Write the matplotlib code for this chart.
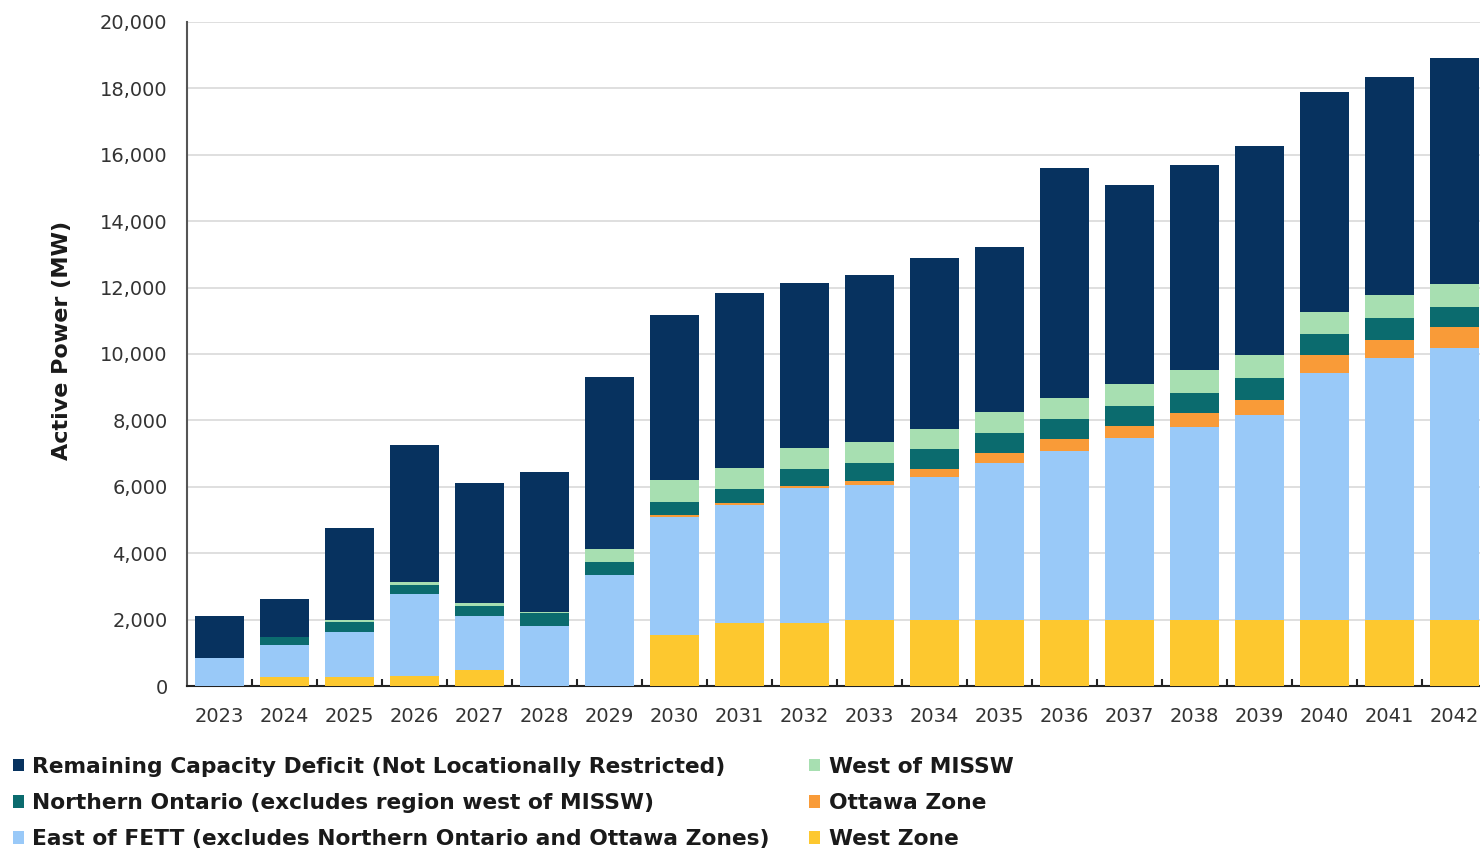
import matplotlib
matplotlib.use("Agg")
import matplotlib.pyplot as plt
from matplotlib.patches import Patch
from matplotlib.ticker import FuncFormatter, MultipleLocator
import numpy as np

years = [str(y) for y in range(2023, 2043)]

# Capacity need by zone (MW), stacked bottom to top
west_zone = [0, 260, 280, 310, 480, 0, 0, 1540, 1900, 1890,
             2000, 2000, 2000, 2000, 2000, 2000, 2000, 2000, 2000, 2000]
east_of_fett = [850, 975, 1360, 2450, 1630, 1810, 3340, 3560, 3550, 4064,
                4054, 4286, 4726, 5078, 5460, 5810, 6160, 7440, 7870, 8170]
ottawa_zone = [0, 0, 0, 0, 0, 0, 0, 50, 70, 70,
               120, 240, 280, 350, 370, 420, 450, 530, 550, 630]
northern_ontario = [0, 250, 280, 280, 310, 390, 400, 400, 400, 500,
                    530, 600, 600, 600, 600, 600, 670, 630, 650, 620]
west_of_missw = [0, 0, 60, 100, 90, 40, 400, 650, 635, 630,
                 650, 630, 650, 660, 680, 680, 680, 670, 700, 700]
remaining_deficit = [1250, 1125, 2790, 4120, 3610, 4200, 5170, 4980, 5280, 4980,
                     5020, 5130, 4970, 6900, 5970, 6190, 6320, 6630, 6570, 6810]

series = [
    ("West Zone", west_zone, "#FDC82F"),
    ("East of FETT (excludes Northern Ontario and Ottawa Zones)", east_of_fett, "#99C9F8"),
    ("Ottawa Zone", ottawa_zone, "#F99B38"),
    ("Northern Ontario (excludes region west of MISSW)", northern_ontario, "#0B6B6E"),
    ("West of MISSW", west_of_missw, "#A7DFB1"),
    ("Remaining Capacity Deficit (Not Locationally Restricted)", remaining_deficit, "#07325F"),
]

fig = plt.figure(figsize=(14.8, 8.52), dpi=100)
ax = fig.add_axes([187 / 1480, 166 / 852, 1300 / 1480, 664 / 852])

x = np.arange(len(years))
bottom = np.zeros(len(years))
handles = {}
for name, vals, color in series:
    vals = np.array(vals, dtype=float)
    ax.bar(x, vals, width=0.755, bottom=bottom, color=color, edgecolor="none", zorder=3)
    bottom += vals
    handles[name] = Patch(facecolor=color, edgecolor="none")

ax.set_xlim(-0.5, len(years) - 0.5)
ax.set_ylim(0, 20000)
ax.yaxis.set_major_locator(MultipleLocator(2000))
ax.yaxis.set_major_formatter(FuncFormatter(lambda v, p: f"{int(v):,}"))
ax.grid(axis="y", color="#d9d9d9", linewidth=1.2, zorder=0)
ax.set_axisbelow(True)

ax.set_xticks(x)
ax.set_xticklabels(years)
ax.set_xticks(np.arange(0.5, len(years) - 0.5, 1.0), minor=True)
ax.tick_params(axis="x", which="major", length=0, pad=15, labelsize=14, labelcolor="#333333")
ax.tick_params(axis="x", which="minor", length=5, width=1.5, direction="in", color="#222222")
ax.tick_params(axis="y", length=0, pad=14, labelsize=14, labelcolor="#333333")

for side in ("top", "right"):
    ax.spines[side].set_visible(False)
ax.spines["left"].set_color("#555555")
ax.spines["left"].set_linewidth(1.5)
ax.spines["bottom"].set_color("#222222")
ax.spines["bottom"].set_linewidth(1.5)

fig.text(62 / 1480, 1 - 340 / 852, "Active Power (MW)", rotation=90,
         ha="center", va="center", fontsize=16, fontweight="bold",
         family="DejaVu Sans", color="#1a1a1a")

order = [
    "Remaining Capacity Deficit (Not Locationally Restricted)",
    "Northern Ontario (excludes region west of MISSW)",
    "East of FETT (excludes Northern Ontario and Ottawa Zones)",
    "West of MISSW",
    "Ottawa Zone",
    "West Zone",
]
leg = fig.legend([handles[n] for n in order], order, ncol=2, loc="upper left",
                 bbox_to_anchor=(4 / 1480, 1 - 748 / 852), frameon=False,
                 prop={"family": "DejaVu Sans", "weight": "bold", "size": 15.7},
                 handlelength=0.5, handleheight=0.5, handletextpad=0.4,
                 columnspacing=1.8, labelspacing=0.75, borderaxespad=0.0)
for t in leg.get_texts():
    t.set_color("#1a1a1a")

fig.savefig("out.png", dpi=100)
